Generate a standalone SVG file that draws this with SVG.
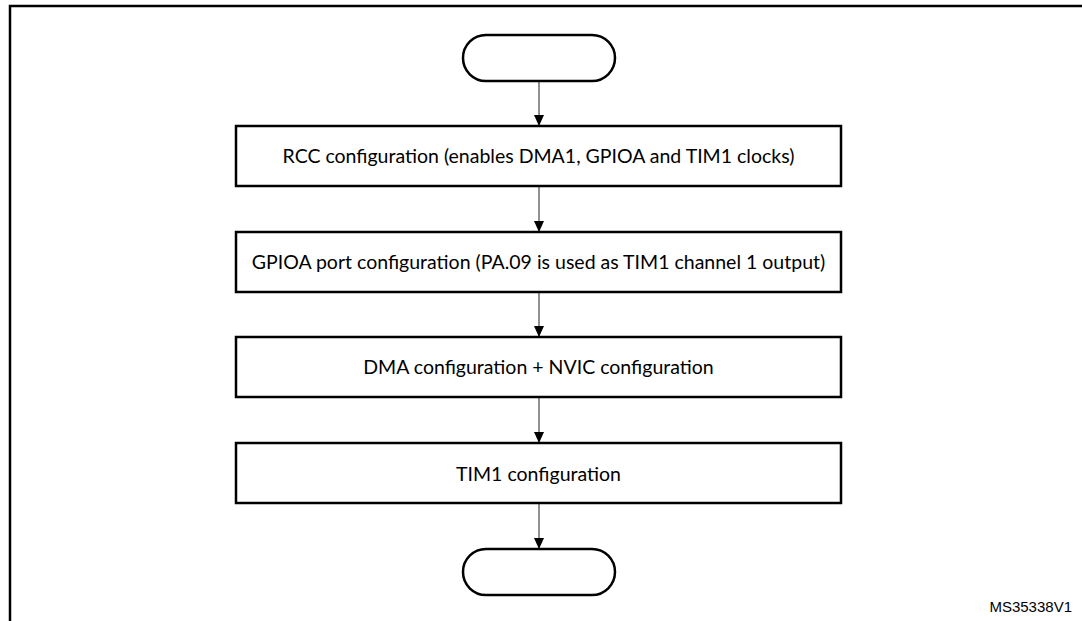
<svg xmlns="http://www.w3.org/2000/svg" width="1082" height="621" viewBox="0 0 1082 621">
  <style>
    .frame { fill: none; stroke: #000; stroke-width: 2.5; }
    .term { fill: #fff; stroke: #000; stroke-width: 2.5; }
    .box { fill: #fff; stroke: #000; stroke-width: 2.5; }
    .lbl { font-family: Lato, "Open Sans", sans-serif; font-size: 19.5px; fill: #000; text-anchor: middle; }
    .wire { stroke: #555; stroke-width: 1.3; fill: none; marker-end: url(#head); }
    .ref { font-family: "Liberation Sans", Arial, sans-serif; font-size: 15px; fill: #000; text-anchor: end; }
  </style>
  <defs>
    <marker id="head" markerWidth="10" markerHeight="11" refX="11" refY="5" orient="auto" markerUnits="userSpaceOnUse">
      <path d="M0,0 L11,5 L0,10 Z" fill="#000"/>
    </marker>
  </defs>
  <rect width="1082" height="621" fill="#fff"/>
  <!-- outer frame, open on the right and bottom -->
  <path class="frame" d="M10,625 V6 H1085"/>

  <g id="connectors">
    <line class="wire" x1="539" y1="81" x2="539" y2="126"/>
    <line class="wire" x1="539" y1="186" x2="539" y2="232"/>
    <line class="wire" x1="539" y1="292" x2="539" y2="337"/>
    <line class="wire" x1="539" y1="397" x2="539" y2="443"/>
    <line class="wire" x1="539" y1="503" x2="539" y2="549"/>
  </g>

  <g id="start">
    <rect class="term" x="463" y="35" width="152" height="46" rx="23" ry="23"/>
  </g>
  <g id="rcc">
    <rect class="box" x="236" y="126" width="605" height="60"/>
    <text class="lbl" x="538.5" y="163">RCC configuration (enables DMA1, GPIOA and TIM1 clocks)</text>
  </g>
  <g id="gpioa">
    <rect class="box" x="236" y="232" width="605" height="60"/>
    <text class="lbl" x="538.5" y="269">GPIOA port configuration (PA.09 is used as TIM1 channel 1 output)</text>
  </g>
  <g id="dma">
    <rect class="box" x="236" y="337" width="605" height="60"/>
    <text class="lbl" x="538.5" y="374">DMA configuration + NVIC configuration</text>
  </g>
  <g id="tim1">
    <rect class="box" x="236" y="443" width="605" height="60"/>
    <text class="lbl" x="538.5" y="481">TIM1 configuration</text>
  </g>
  <g id="end">
    <rect class="term" x="463" y="549" width="152" height="46" rx="23" ry="23"/>
  </g>

  <text class="ref" x="1072" y="612">MS35338V1</text>
</svg>
